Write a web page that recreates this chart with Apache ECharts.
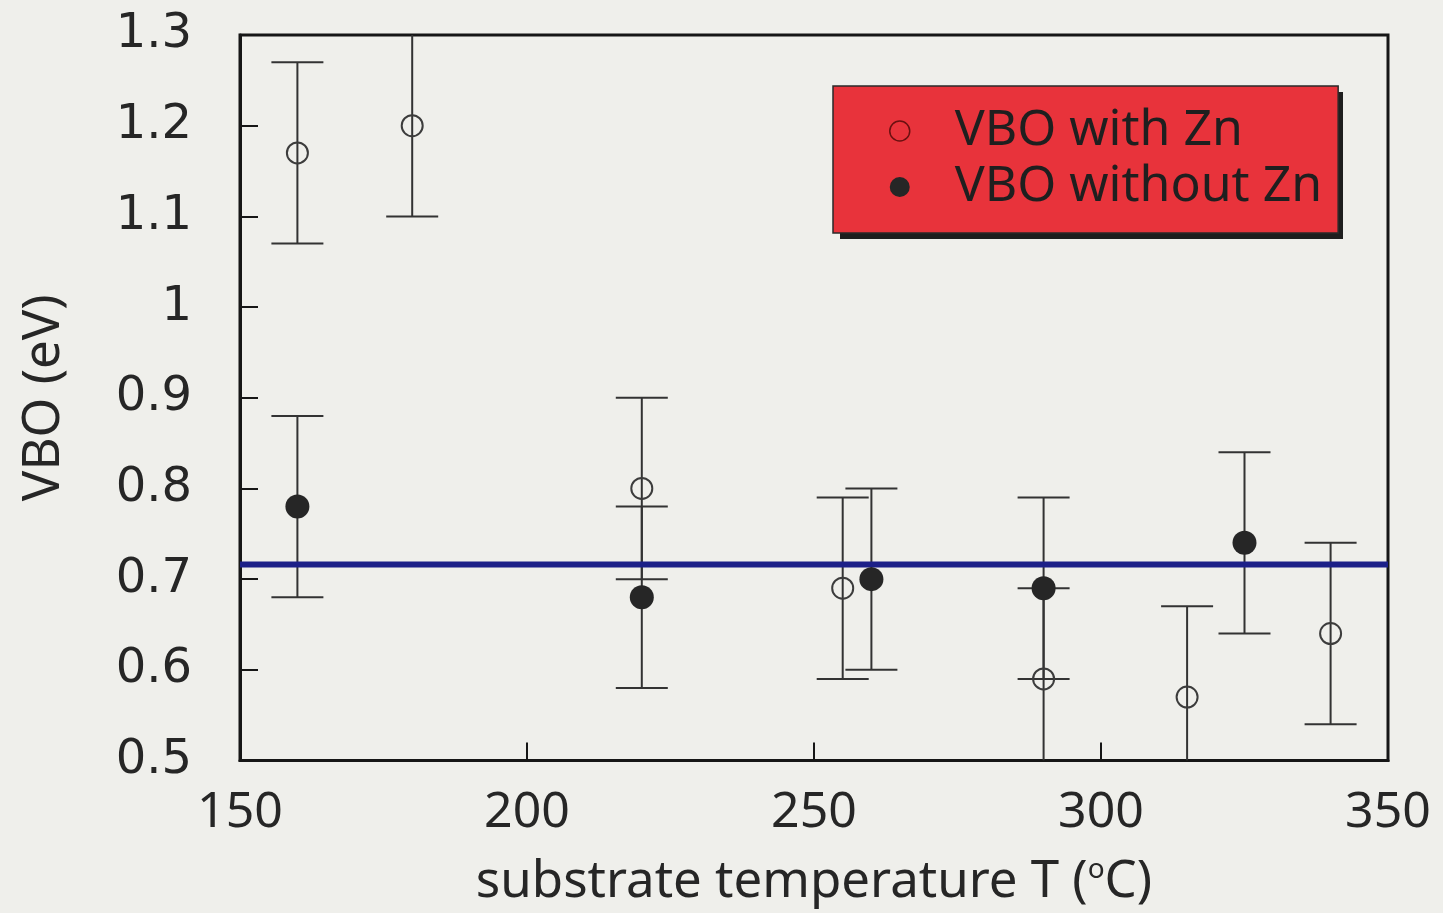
<!DOCTYPE html>
<html>
<head>
<meta charset="utf-8">
<title>VBO vs substrate temperature</title>
<script src="https://cdn.jsdelivr.net/npm/echarts@6/dist/echarts.min.js"></script>
<style>
  html, body { margin: 0; padding: 0; background: #efefeb; }
  #chart { width: 1443px; height: 913px; }
</style>
</head>
<body>
<div id="chart"></div>
<script>
// Valence band offset measurements (eV) versus substrate temperature (°C)
const withZnT = [160, 180, 220, 255, 290, 315, 340];
const withZnVBO = [1.17, 1.20, 0.80, 0.69, 0.59, 0.57, 0.64];
const withZnErr = [0.10, 0.10, 0.10, 0.10, 0.10, 0.10, 0.10];

const withoutZnT = [160, 220, 260, 290, 325];
const withoutZnVBO = [0.78, 0.68, 0.70, 0.69, 0.74];
const withoutZnErr = [0.10, 0.10, 0.10, 0.10, 0.10];

const meanVBO = 0.716;

const xTicks = [150, 200, 250, 300, 350];
const yTicks = [0.5, 0.6, 0.7, 0.8, 0.9, 1.0, 1.1, 1.2, 1.3];

const seriesNames = ['VBO with Zn', 'VBO without Zn'];

const xMin = xTicks[0], xMax = xTicks[xTicks.length - 1];
const yMin = yTicks[0], yMax = yTicks[yTicks.length - 1];

function errRows(t, v, e) {
  return t.map((x, i) => [x, v[i], Math.max(v[i] - e[i], yMin), Math.min(v[i] + e[i], yMax)]);
}

function renderErrorBar(params, api) {
  const x = api.value(0);
  const lo = api.coord([x, api.value(2)]);
  const hi = api.coord([x, api.value(3)]);
  const cap = 26;
  const style = { stroke: '#333333', lineWidth: 2 };
  const children = [
    { type: 'line', shape: { x1: lo[0], y1: lo[1], x2: hi[0], y2: hi[1] }, style }
  ];
  if (api.value(3) < yMax) {
    children.push({ type: 'line', shape: { x1: hi[0] - cap, y1: hi[1], x2: hi[0] + cap, y2: hi[1] }, style });
  }
  if (api.value(2) > yMin) {
    children.push({ type: 'line', shape: { x1: lo[0] - cap, y1: lo[1], x2: lo[0] + cap, y2: lo[1] }, style });
  }
  return { type: 'group', children };
}

const chart = echarts.init(document.getElementById('chart'), null, { renderer: 'canvas' });

chart.setOption({
  backgroundColor: '#efefeb',
  animation: false,
  grid: {
    left: 240, top: 35, width: 1148, height: 728,
    show: true, borderColor: '#161616', borderWidth: 3, backgroundColor: 'transparent'
  },
  // drop shadow behind the legend box
  graphic: [{
    type: 'rect', left: 840, top: 92, z: 0, silent: true,
    shape: { width: 503, height: 147 },
    style: { fill: '#1e1e1e' }
  }],
  legend: {
    data: [
      { name: seriesNames[0], icon: 'circle', itemStyle: { color: 'transparent', borderColor: '#6a1010', borderWidth: 1.5 } },
      { name: seriesNames[1], icon: 'circle', itemStyle: { color: '#262626' } }
    ],
    orient: 'vertical',
    left: 833, top: 86,
    padding: [17, 16, 18, 56],
    itemGap: 0,
    itemWidth: 22, itemHeight: 20,
    backgroundColor: '#e8333b',
    borderColor: '#2a2a2a', borderWidth: 1.5,
    z: 10,
    selectedMode: false,
    textStyle: {
      fontFamily: 'Noto Sans', fontSize: 50, color: '#1f1f1f',
      lineHeight: 56, padding: [0, 0, 0, 39]
    }
  },
  xAxis: {
    type: 'value', min: xMin, max: xMax, interval: 50,
    name: 'substrate temperature T ({sup|o}C)',
    nameLocation: 'middle', nameGap: 96,
    nameTextStyle: {
      fontFamily: 'Noto Sans', fontSize: 51, color: '#262626',
      rich: { sup: { fontFamily: 'Noto Sans', fontSize: 28, verticalAlign: 'top', padding: [0, 0, 24, 0], color: '#262626' } }
    },
    axisLine: { lineStyle: { color: '#161616', width: 3 } },
    axisTick: { inside: true, length: 18, lineStyle: { color: '#161616', width: 2 } },
    axisLabel: {
      margin: 27, fontFamily: 'Noto Sans',
      fontSize: 50, color: '#262626', showMinLabel: true, showMaxLabel: true
    },
    splitLine: { show: false }
  },
  yAxis: {
    type: 'value', min: yMin, max: yMax, interval: 0.1,
    name: 'VBO (eV)',
    nameLocation: 'middle', nameGap: 170, nameRotate: 90,
    nameTextStyle: { fontFamily: 'Noto Sans', fontSize: 51, color: '#262626' },
    axisLine: { lineStyle: { color: '#161616', width: 3 } },
    axisTick: { inside: true, length: 18, lineStyle: { color: '#161616', width: 2 } },
    axisLabel: {
      margin: 48, fontFamily: 'DejaVu Sans', fontSize: 48, color: '#262626',
      formatter: v => String(Math.round(v * 10) / 10)
    },
    splitLine: { show: false }
  },
  series: [
    {
      // mean VBO level across the full temperature range
      name: 'mean', type: 'line', symbol: 'none', silent: true, z: 3,
      data: [[xMin, meanVBO], [xMax, meanVBO]],
      lineStyle: { color: '#1c2088', width: 6 }
    },
    {
      name: 'err-with', type: 'custom', renderItem: renderErrorBar, clip: true,
      data: errRows(withZnT, withZnVBO, withZnErr), z: 2, silent: true
    },
    {
      name: 'err-without', type: 'custom', renderItem: renderErrorBar, clip: true,
      data: errRows(withoutZnT, withoutZnVBO, withoutZnErr), z: 2, silent: true
    },
    {
      name: seriesNames[0], type: 'scatter', symbol: 'circle', symbolSize: 21,
      data: withZnT.map((t, i) => [t, withZnVBO[i]]),
      itemStyle: { color: 'transparent', borderColor: '#3c3c3c', borderWidth: 2, opacity: 1 },
      z: 4
    },
    {
      name: seriesNames[1], type: 'scatter', symbol: 'circle', symbolSize: 24,
      data: withoutZnT.map((t, i) => [t, withoutZnVBO[i]]),
      itemStyle: { color: '#262626', opacity: 1 },
      z: 5
    }
  ]
});
</script>
</body>
</html>
